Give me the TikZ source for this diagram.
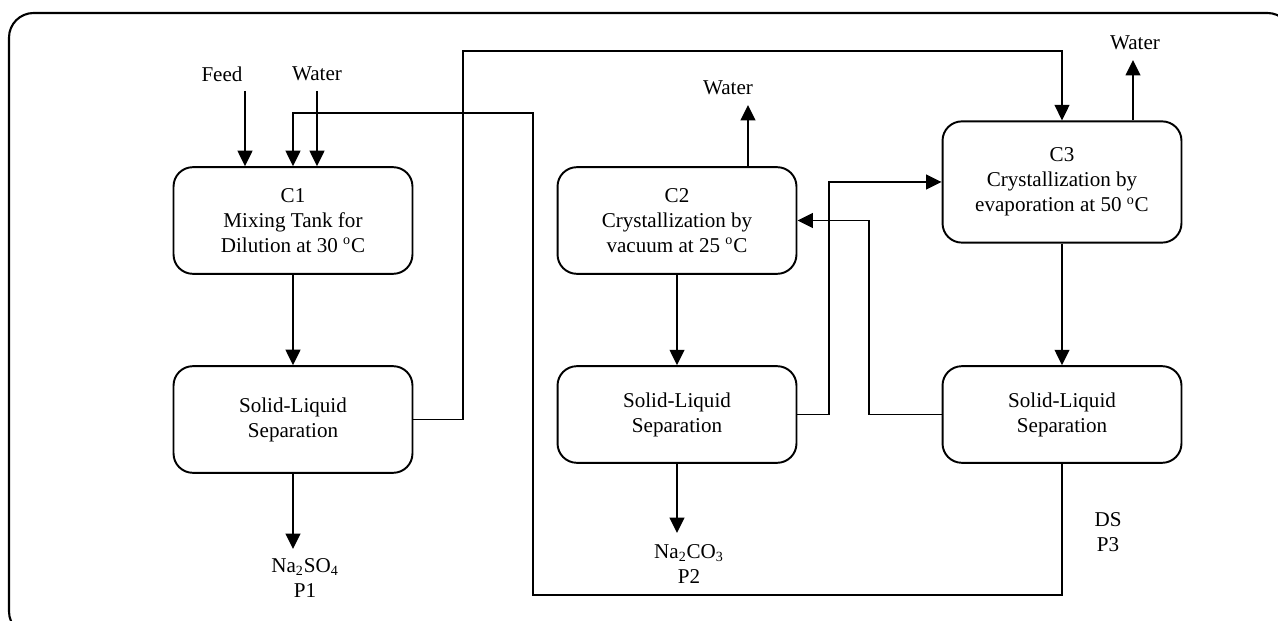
\documentclass[tikz,border=0pt]{standalone}
\usepackage{fontspec}
\setmainfont{Liberation Serif}
\usepackage{tikz}
\usetikzlibrary{positioning,arrows.meta,calc}
\tikzset{
  blk/.style={rectangle,rounded corners=11pt,draw=black,line width=1.1pt,
    align=center,inner sep=2pt,minimum width=136pt,minimum height=60.7pt},
  ar/.style={-{Triangle[length=8.8pt,width=8.4pt]},line width=1pt},
  ln/.style={line width=1pt},
  lbl/.style={align=center,inner sep=1pt},
}
\newcommand{\degc}{\textsuperscript{o}C}

\begin{document}
\begin{tikzpicture}[x=0.02cm,y=-0.02cm,font=\fontsize{12}{14.2}\selectfont]
  \useasboundingbox (0,0) rectangle (1278,621);
  \draw[line width=1.2pt,rounded corners=14pt] (9,13) rectangle (1292,636);

  % units
  \node[blk] (C1) at (293,220.5) {C1\\Mixing Tank for\\Dilution at 30 \degc};
  \node[blk] (S1) at (293,419.5) {Solid-Liquid\\Separation};
  \node[blk] (C2) at (677,220.5) {C2\\Crystallization by\\vacuum at 25 \degc};
  \node[blk,minimum height=55pt] (S2) at (677,414.5) {Solid-Liquid\\Separation};
  \node[blk,minimum height=69pt] (C3) at (1062,182) {C3\\Crystallization by\\evaporation at 50 \degc};
  \node[blk,minimum height=55pt] (S3) at (1062,414.5) {Solid-Liquid\\Separation};

  % streams in and out
  \node[lbl] (feed) at (222,74) {Feed};
  \node[lbl] (wtr1) at (317,74) {Water};
  \node[lbl] (wtr2) at (728,88) {Water};
  \node[lbl] (wtr3) at (1135,43) {Water};
  \node[lbl] (P1) at (305,578) {Na\textsubscript{2}SO\textsubscript{4}\\P1};
  \node[lbl] (P2) at (689,564) {Na\textsubscript{2}CO\textsubscript{3}\\P2};
  \node[lbl] (P3) at (1108,532) {DS\\P3};
  \coordinate (feedin) at (245,91);
  \coordinate (wtrin) at (317,91);
  \coordinate (w2out) at (748,105);
  \coordinate (w3out) at (1133,60);
  \coordinate (p1in) at (293,549);
  \coordinate (p2in) at (677,533);

  \draw[ar] (feedin) -- (feedin |- C1.north);
  \draw[ar] (wtrin) -- (wtrin |- C1.north);
  \draw[ar] (w2out |- C2.north) -- (w2out);
  \draw[ar] (w3out |- C3.north) -- (w3out);
  \draw[ar] (C1) -- (S1);
  \draw[ar] (C2) -- (S2);
  \draw[ar] (C3) -- (S3);
  \draw[ar] (S1.south) -- (p1in);
  \draw[ar] (S2.south) -- (p2in);

  % recycles
  \coordinate (top) at (463,51);
  \coordinate (bot) at (533,595);
  \coordinate (ret) at (533,113);
  \coordinate (s2r) at (829,0);
  \coordinate (s3l) at (869,0);
  \draw[ar] (S1.east) -| (top) -| (C3.north);
  \draw[ar] (S3.south) |- (bot) -- (ret) -| (C1.north);
  \draw[ar] (S2.east) -| (s2r |- C3.west) -- (C3.west);
  \draw[ar] (S3.west) -| (s3l |- C2.east) -- (C2.east);
\end{tikzpicture}
\end{document}
